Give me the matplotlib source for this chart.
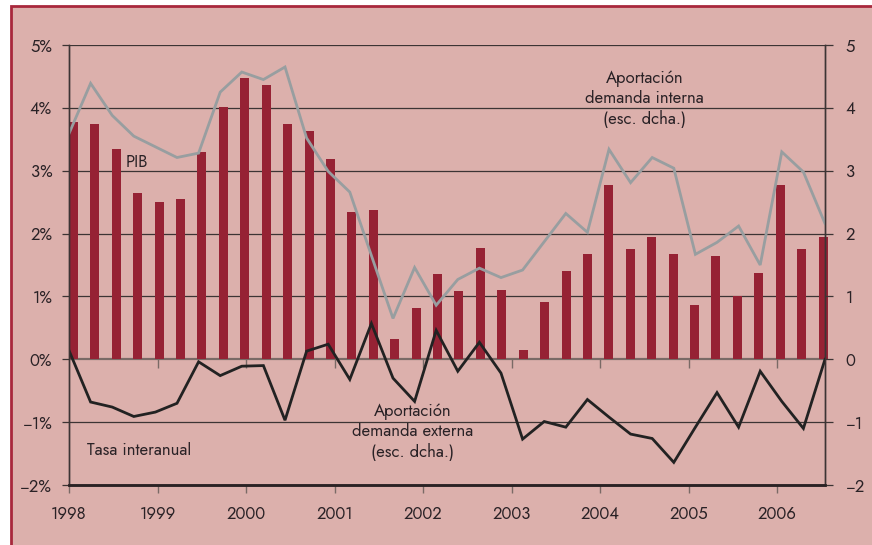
import matplotlib
matplotlib.use("Agg")
import matplotlib.pyplot as plt
from matplotlib.patches import Rectangle
import numpy as np

plt.rcParams['font.family'] = ['Jost', 'DejaVu Sans']

# ---- data (quarterly, 1998Q1 .. 2006Q4) ----
pib = [3.77, 3.74, 3.34, 2.64, 2.51, 2.55, 3.29, 4.02, 4.47, 4.37, 3.74, 3.63,
       3.18, 2.34, 2.37, 0.32, 0.81, 1.35, 1.08, 1.77, 1.10, 0.14, 0.91, 1.40,
       1.67, 2.77, 1.75, 1.94, 1.67, 0.87, 1.64, 1.00, 1.38, 2.77, 1.75, 1.94]
dem_interna = [3.59, 4.39, 3.88, 3.55, 3.38, 3.21, 3.28, 4.25, 4.57, 4.45, 4.65, 3.52,
               2.99, 2.66, 1.65, 0.65, 1.46, 0.86, 1.27, 1.45, 1.30, 1.42, 1.87, 2.32,
               2.02, 3.34, 2.81, 3.21, 3.04, 1.67, 1.86, 2.12, 1.50, 3.30, 2.98, 2.16]
dem_externa = [0.14, -0.68, -0.76, -0.91, -0.84, -0.70, -0.04, -0.26, -0.11, -0.10, -0.97, 0.13,
               0.24, -0.32, 0.57, -0.30, -0.67, 0.46, -0.19, 0.27, -0.22, -1.27, -0.99, -1.08,
               -0.64, -0.92, -1.19, -1.26, -1.64, -1.08, -0.53, -1.08, -0.19, -0.67, -1.10, 0.00]
years = ['1998', '1999', '2000', '2001', '2002', '2003', '2004', '2005', '2006']
yticks = [-2, -1, 0, 1, 2, 3, 4, 5]
left_labels = ['\u22122%', '\u22121%', '0%', '1%', '2%', '3%', '4%', '5%']
right_labels = ['\u22122', '\u22121', '0', '1', '2', '3', '4', '5']

# ---- style ----
BG = '#dcb0ac'
FRAME = '#a8283c'
BAR = '#962234'
GREY = '#989ea0'
BLACK = '#222222'
GRID = '#3c3434'
ZERO = '#7a6a66'
TXT = '#2a2226'
FS = 12

fig = plt.figure(figsize=(8.72, 5.45), dpi=100, facecolor='white')
fig.patches.append(Rectangle((10.5 / 872, -0.02), 1.0, 1 - 5.5 / 545 + 0.02,
                             transform=fig.transFigure, facecolor=BG,
                             edgecolor=FRAME, lw=2, zorder=-10))

ax = fig.add_axes([69 / 872, 1 - 485 / 545, (825 - 69) / 872, (485 - 45) / 545])
ax.set_facecolor('none')
x0, x1 = -0.21, 35.09
ax.set_xlim(x0, x1)
ax.set_ylim(-2, 5)

n = len(pib)
bar_x = np.arange(n)
line_x = np.linspace(x0, x1, n)

ax.bar(bar_x, pib, width=0.42, color=BAR, zorder=2, clip_on=False)
ax.axhline(0, color=ZERO, lw=1.6, zorder=1.5)
ax.plot(line_x, dem_interna, color=GREY, lw=2.0, zorder=3, solid_joinstyle='miter')
ax.plot(line_x, dem_externa, color=BLACK, lw=2.0, zorder=4, solid_joinstyle='miter')

# gridlines
for v in yticks[1:]:
    if v != 0:
        ax.axhline(v, color=GRID, lw=0.9, zorder=1)

# year ticks
year_pos = x0 + np.arange(len(years)) * 4.135
ax.set_xticks(year_pos, labels=years)
ax.tick_params(axis='x', direction='out', length=6, width=1.0, color=ZERO,
               pad=9, labelsize=FS, labelcolor=TXT)
ax.vlines(year_pos[1:], -0.145, 0, color=ZERO, lw=1.0, zorder=1.5)

ax.set_yticks(yticks, labels=left_labels)
ax.tick_params(axis='y', direction='out', length=5, width=0.9, color=GRID,
               pad=7, labelsize=FS, labelcolor=TXT)

ax2 = ax.twinx()
ax2.set_ylim(-2, 5)
ax2.set_yticks(yticks, labels=right_labels)
ax2.tick_params(axis='y', direction='out', length=6, width=0.9, color=GRID,
                pad=9, labelsize=FS, labelcolor=TXT)

for a in (ax, ax2):
    a.spines['top'].set_visible(False)
    a.spines['left'].set_color(GRID)
    a.spines['right'].set_color(GRID)
    a.spines['left'].set_linewidth(1.0)
    a.spines['right'].set_linewidth(1.0)
    a.spines['bottom'].set_color('#2a2224')
    a.spines['bottom'].set_linewidth(1.8)

# annotations
ax.text(2.45, 3.13, 'PIB', fontsize=FS, color=TXT, ha='left', va='center', zorder=5)
ax.text(0.63, -1.45, 'Tasa interanual', fontsize=FS, color=TXT, ha='left', va='center', zorder=5)
ax.text(26.66, 4.14, 'Aportación\ndemanda interna\n(esc. dcha.)', fontsize=FS, color=TXT,
        ha='center', va='center', linespacing=1.2, zorder=5)
ax.text(15.82, -1.16, 'Aportación\ndemanda externa\n(esc. dcha.)', fontsize=FS, color=TXT,
        ha='center', va='center', linespacing=1.2, zorder=5)

fig.savefig('out.png', dpi=100, facecolor='white')
